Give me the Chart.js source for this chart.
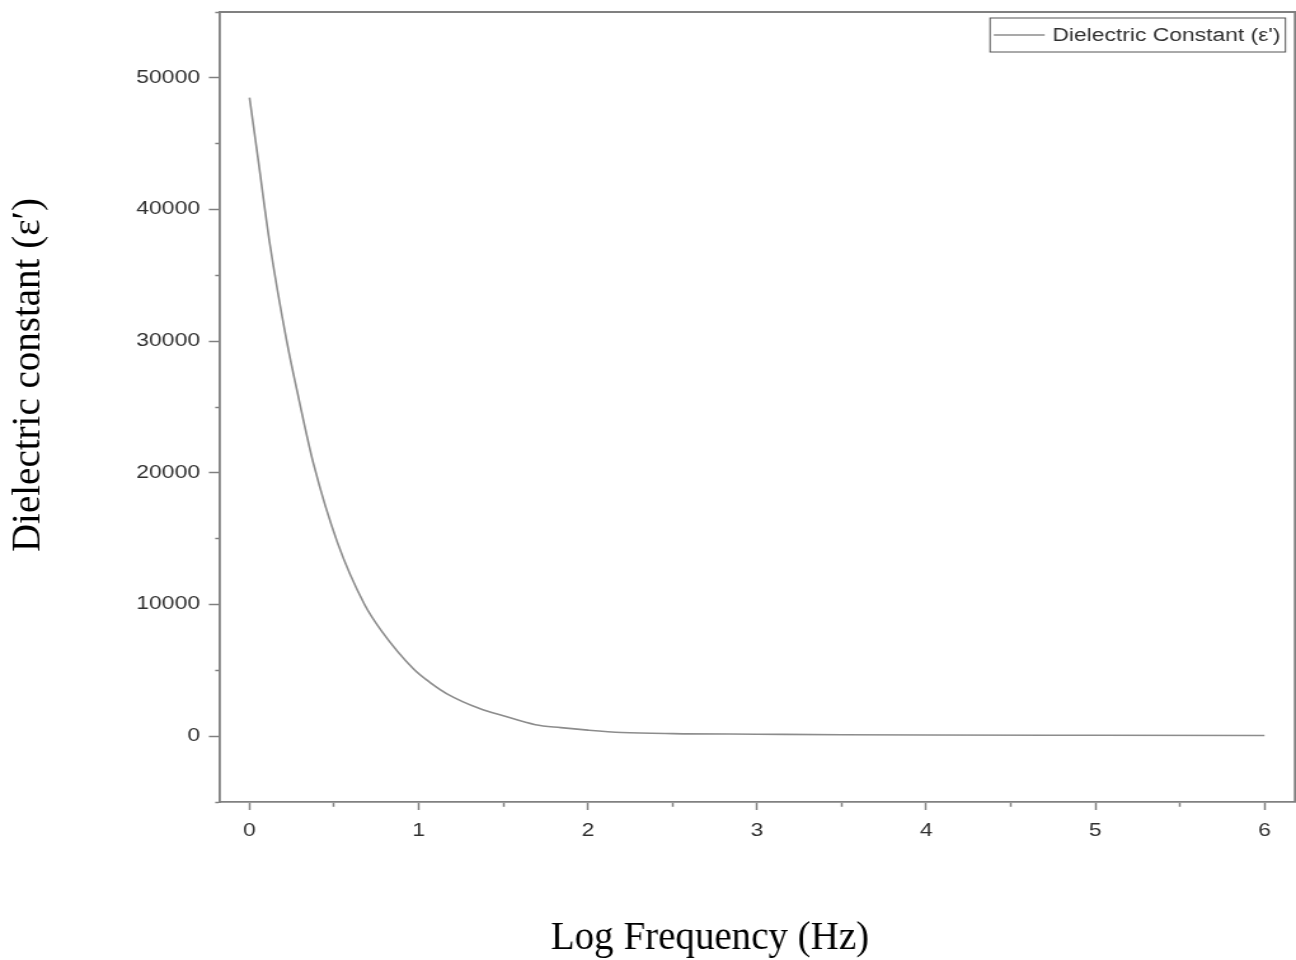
<!DOCTYPE html>
<html>
<head>
<meta charset="utf-8">
<script src="https://cdn.jsdelivr.net/npm/chart.js@4/dist/chart.umd.min.js"></script>
<style>
  html, body { margin: 0; padding: 0; background: #fff; overflow: hidden; }
  /* the reference figure is stretched sideways, so the chart is drawn narrower and scaled */
  #wrap { width: 1020px; height: 960px; transform: scaleX(1.270588); transform-origin: 0 0; }
</style>
</head>
<body>
<div id="wrap"><canvas id="dielectricChart"></canvas></div>
<script>
const logFreq = [0, 0.05, 0.12, 0.22, 0.29, 0.38, 0.52, 0.68, 0.78, 0.97, 1.07, 1.17, 1.36, 1.5, 1.69, 1.84, 2.0, 2.2, 2.5, 3.0, 3.5, 4.0, 5.0, 6.0];
const epsilon = [48500, 43900, 37400, 30000, 25700, 20600, 14700, 10000, 8000, 5100, 4050, 3200, 2100, 1550, 870, 650, 460, 280, 190, 150, 110, 90, 70, 50];
const xTickLabels = [0, 1, 2, 3, 4, 5, 6];
const yTickLabels = [0, 10000, 20000, 30000, 40000, 50000];
const seriesLabel = "Dielectric Constant (\u03b5')";
const xTitle = 'Log Frequency (Hz)';
const yTitle = 'Dielectric constant (\u03b5\u2032)';

const stretch = 1.270588;
const axisGray = '#808080';
const labelGray = '#303030';
const sansFont = '"Liberation Sans", Arial, sans-serif';
const serifFont = '"Liberation Serif", "Times New Roman", serif';

// top/right frame, boxed legend and the axis titles (titles are not stretched)
const extras = {
	id: 'extras',
	afterDraw(chart) {
		const { ctx, chartArea: a } = chart;
		ctx.save();

		ctx.strokeStyle = axisGray;
		ctx.lineWidth = 1.8;
		ctx.beginPath();
		ctx.moveTo(a.left, a.top);
		ctx.lineTo(a.right, a.top);
		ctx.lineTo(a.right, a.bottom);
		ctx.stroke();

		ctx.font = '18px ' + sansFont;
		const tw = ctx.measureText(seriesLabel).width;
		const boxW = 49 + tw + 4, boxH = 34;
		const bx = a.right - 7.5 - boxW, by = a.top + 6;
		ctx.strokeStyle = '#555';
		ctx.lineWidth = 1;
		ctx.strokeRect(bx, by, boxW, boxH);
		ctx.strokeStyle = chart.data.datasets[0].borderColor;
		ctx.lineWidth = 1.4;
		ctx.beginPath();
		ctx.moveTo(bx + 3, by + boxH / 2);
		ctx.lineTo(bx + 43, by + boxH / 2);
		ctx.stroke();
		ctx.fillStyle = labelGray;
		ctx.textBaseline = 'middle';
		ctx.textAlign = 'left';
		ctx.fillText(seriesLabel, bx + 49, by + boxH / 2 + 1);

		ctx.fillStyle = '#000';
		ctx.textAlign = 'center';
		ctx.textBaseline = 'alphabetic';
		ctx.font = '39px ' + serifFont;

		ctx.save();
		ctx.translate(710 / stretch, 949);
		ctx.scale(1 / stretch, 1);
		ctx.fillText(xTitle, 0, 0);
		ctx.restore();

		ctx.save();
		ctx.translate(39 / stretch, 375);
		ctx.scale(1 / stretch, 1);
		ctx.rotate(-Math.PI / 2);
		ctx.fillText(yTitle, 0, 0);
		ctx.restore();

		ctx.restore();
	}
};

new Chart(document.getElementById('dielectricChart'), {
	type: 'line',
	data: {
		datasets: [{
			label: seriesLabel,
			data: logFreq.map((f, i) => ({ x: f, y: epsilon[i] })),
			borderColor: '#8c8c8c',
			borderWidth: 1.6,
			pointRadius: 0,
			cubicInterpolationMode: 'monotone',
			fill: false
		}]
	},
	options: {
		responsive: true,
		maintainAspectRatio: false,
		animation: false,
		layout: { padding: { top: 12, right: 0.8, left: 0, bottom: 0 } },
		plugins: {
			legend: { display: false },
			tooltip: { enabled: false }
		},
		scales: {
			x: {
				type: 'linear',
				min: -0.18,
				max: 6.18,
				border: { color: axisGray, width: 1.8 },
				grid: {
					drawOnChartArea: false,
					tickLength: 8,
					tickColor: axisGray,
					tickWidth: 1.5,
					tickBorderDash: c => (c.tick && xTickLabels.includes(c.tick.value)) ? [] : [4, 100]
				},
				ticks: {
					stepSize: 0.5,
					includeBounds: false,
					autoSkip: false,
					maxRotation: 0,
					padding: 10,
					color: labelGray,
					font: { family: sansFont, size: 18 },
					callback: v => xTickLabels.includes(v) ? String(v) : ''
				},
				afterFit: s => { s.height = 158; s.paddingLeft = 0; s.paddingRight = 0; }
			},
			y: {
				min: -5000,
				max: 55000,
				border: { color: axisGray, width: 1.8 },
				grid: {
					drawOnChartArea: false,
					tickLength: 8,
					tickColor: axisGray,
					tickWidth: 1.5,
					tickBorderDash: c => (c.tick && yTickLabels.includes(c.tick.value)) ? [] : [0, 5, 3, 100]
				},
				ticks: {
					stepSize: 5000,
					autoSkip: false,
					padding: 7,
					color: labelGray,
					font: { family: sansFont, size: 18 },
					callback: v => yTickLabels.includes(v) ? String(v) : ''
				},
				afterFit: s => { s.width = 172.4; s.paddingTop = 0; s.paddingBottom = 0; }
			}
		}
	},
	plugins: [extras]
});
</script>
</body>
</html>
